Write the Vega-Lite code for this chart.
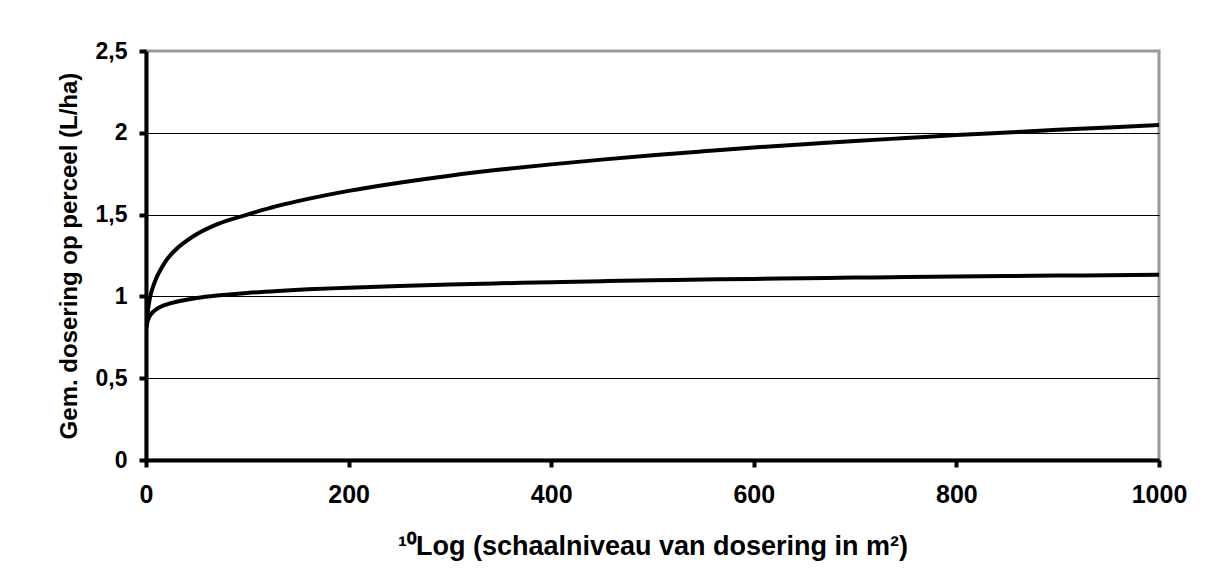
{
  "$schema": "https://vega.github.io/schema/vega-lite/v6.json",
  "width": 1013,
  "height": 409,
  "autosize": "none",
  "padding": {"left": 146, "top": 51, "right": 49, "bottom": 121},
  "background": "white",
  "config": {
    "view": {"stroke": "#999999", "strokeWidth": 3},
    "font": "Liberation Sans"
  },
  "data": {
    "values": [
      {"x": 0, "y": 0.8, "s": "a"},
      {"x": 1, "y": 0.86, "s": "a"},
      {"x": 2, "y": 0.92, "s": "a"},
      {"x": 3, "y": 0.96, "s": "a"},
      {"x": 5, "y": 1.02, "s": "a"},
      {"x": 7, "y": 1.06, "s": "a"},
      {"x": 10, "y": 1.11, "s": "a"},
      {"x": 15, "y": 1.17, "s": "a"},
      {"x": 20, "y": 1.22, "s": "a"},
      {"x": 30, "y": 1.29, "s": "a"},
      {"x": 40, "y": 1.34, "s": "a"},
      {"x": 50, "y": 1.38, "s": "a"},
      {"x": 70, "y": 1.44, "s": "a"},
      {"x": 100, "y": 1.5, "s": "a"},
      {"x": 130, "y": 1.553, "s": "a"},
      {"x": 160, "y": 1.596, "s": "a"},
      {"x": 200, "y": 1.645, "s": "a"},
      {"x": 250, "y": 1.695, "s": "a"},
      {"x": 300, "y": 1.738, "s": "a"},
      {"x": 350, "y": 1.775, "s": "a"},
      {"x": 400, "y": 1.807, "s": "a"},
      {"x": 450, "y": 1.836, "s": "a"},
      {"x": 500, "y": 1.863, "s": "a"},
      {"x": 550, "y": 1.887, "s": "a"},
      {"x": 600, "y": 1.91, "s": "a"},
      {"x": 650, "y": 1.93, "s": "a"},
      {"x": 700, "y": 1.95, "s": "a"},
      {"x": 750, "y": 1.968, "s": "a"},
      {"x": 800, "y": 1.986, "s": "a"},
      {"x": 850, "y": 2.002, "s": "a"},
      {"x": 900, "y": 2.018, "s": "a"},
      {"x": 950, "y": 2.033, "s": "a"},
      {"x": 1000, "y": 2.047, "s": "a"},
      {"x": 0, "y": 0.8, "s": "b"},
      {"x": 1, "y": 0.83, "s": "b"},
      {"x": 2, "y": 0.856, "s": "b"},
      {"x": 3, "y": 0.872, "s": "b"},
      {"x": 5, "y": 0.892, "s": "b"},
      {"x": 7, "y": 0.906, "s": "b"},
      {"x": 10, "y": 0.921, "s": "b"},
      {"x": 15, "y": 0.938, "s": "b"},
      {"x": 20, "y": 0.95, "s": "b"},
      {"x": 30, "y": 0.967, "s": "b"},
      {"x": 40, "y": 0.98, "s": "b"},
      {"x": 50, "y": 0.99, "s": "b"},
      {"x": 70, "y": 1.005, "s": "b"},
      {"x": 100, "y": 1.021, "s": "b"},
      {"x": 130, "y": 1.033, "s": "b"},
      {"x": 160, "y": 1.043, "s": "b"},
      {"x": 200, "y": 1.053, "s": "b"},
      {"x": 250, "y": 1.064, "s": "b"},
      {"x": 300, "y": 1.073, "s": "b"},
      {"x": 350, "y": 1.08, "s": "b"},
      {"x": 400, "y": 1.087, "s": "b"},
      {"x": 450, "y": 1.093, "s": "b"},
      {"x": 500, "y": 1.098, "s": "b"},
      {"x": 550, "y": 1.103, "s": "b"},
      {"x": 600, "y": 1.107, "s": "b"},
      {"x": 650, "y": 1.111, "s": "b"},
      {"x": 700, "y": 1.115, "s": "b"},
      {"x": 750, "y": 1.118, "s": "b"},
      {"x": 800, "y": 1.121, "s": "b"},
      {"x": 850, "y": 1.124, "s": "b"},
      {"x": 900, "y": 1.127, "s": "b"},
      {"x": 950, "y": 1.13, "s": "b"},
      {"x": 1000, "y": 1.133, "s": "b"}
    ]
  },
  "mark": {"type": "line", "stroke": "black", "strokeWidth": 4, "interpolate": "monotone", "clip": true},
  "encoding": {
    "x": {
      "field": "x",
      "type": "quantitative",
      "scale": {"domain": [0, 1000], "nice": false, "zero": false},
      "axis": {
        "values": [0, 200, 400, 600, 800, 1000],
        "format": "d",
        "grid": false,
        "domainColor": "black",
        "domainWidth": 4,
        "tickColor": "black",
        "tickWidth": 4,
        "tickSize": 7,
        "labelFont": "Liberation Sans",
        "labelFontWeight": "bold",
        "labelFontSize": 25,
        "labelColor": "black",
        "labelPadding": 15,
        "labelFlush": false,
        "title": "¹⁰Log (schaalniveau van dosering in m²)",
        "titleFont": "Liberation Sans",
        "titleFontWeight": "bold",
        "titleFontSize": 27,
        "titleColor": "black",
        "titlePadding": 26
      }
    },
    "y": {
      "field": "y",
      "type": "quantitative",
      "scale": {"domain": [0, 2.5], "nice": false},
      "axis": {
        "values": [0, 0.5, 1, 1.5, 2, 2.5],
        "labelExpr": "replace(format(datum.value, '.1~f'), '.', ',')",
        "grid": true,
        "gridColor": {"condition": {"test": "datum.value == 2.5 || datum.value == 0", "value": "transparent"}, "value": "black"},
        "gridWidth": 1,
        "domainColor": "black",
        "domainWidth": 4,
        "tickColor": "black",
        "tickWidth": 4,
        "tickSize": 7,
        "labelFont": "Liberation Sans",
        "labelFontWeight": "bold",
        "labelFontSize": 23,
        "labelColor": "black",
        "labelPadding": 12,
        "labelFlush": false,
        "title": "Gem. dosering op perceel (L/ha)",
        "titleFont": "Liberation Sans",
        "titleFontWeight": "bold",
        "titleFontSize": 24,
        "titleColor": "black",
        "titlePadding": 14
      }
    },
    "detail": {"field": "s", "type": "nominal"}
  }
}
